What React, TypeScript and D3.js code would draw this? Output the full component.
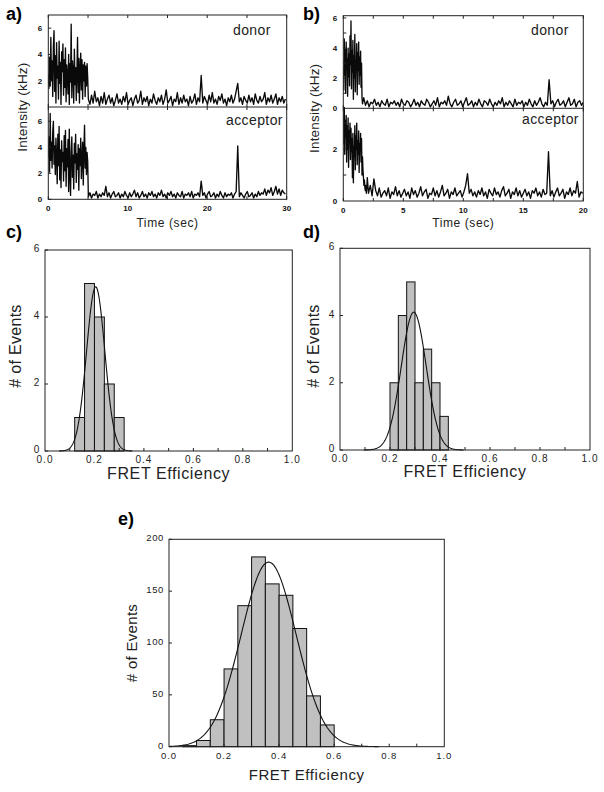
import React from 'react';
import * as d3 from 'd3';

const FONT = "'Liberation Sans', Arial, Helvetica, sans-serif";

// ---------- Panel a : time traces (kHz) ----------
const aHighStart = 0;
const aHighDt = 0.08;
const aLowStart = 5.04;
const aLowDt = 0.2;
const aDonorHigh = [2.5,1.4,3.8,1.6,5.3,2.0,3.5,0.8,4.6,5.8,1.2,3.9,0.3,4.9,2.2,3.1,0.6,5.0,1.8,3.4,0.2,4.2,2.7,4.8,0.9,3.6,1.5,4.5,0.4,3.2,2.4,1.0,4.0,0.2,3.3,1.9,6.3,0.7,3.5,2.8,0.3,4.4,1.7,3.0,0.5,2.6,5.3,1.1,3.7,0.3,2.9,4.1,1.3,3.6,0.6,3.2,2.0,3.4,0.8,3.1,1.6,3.3,2.2];
const aDonorLow = [0.6,0.2,0.9,0.3,1.2,0.4,0.7,0.1,0.8,0.3,1.1,0.2,0.6,0.9,0.3,0.7,0.1,0.5,1.0,0.3,0.6,0.2,0.8,0.4,1.1,0.2,0.5,0.7,0.1,0.6,0.9,0.3,0.5,1.2,0.2,0.7,0.4,0.8,0.1,0.6,0.3,1.0,0.5,0.2,0.7,0.4,0.9,0.2,0.6,1.3,0.3,0.5,0.8,0.1,0.6,0.4,1.1,0.2,0.7,0.3,0.9,0.4,0.6,0.1,0.8,0.3,0.5,1.0,0.2,0.7,0.4,2.4,0.3,0.8,0.5,0.2,0.9,0.4,1.1,0.3,0.6,0.2,0.8,0.5,1.0,0.3,0.6,0.1,0.7,0.4,0.9,0.3,0.6,1.2,1.8,0.4,0.7,0.2,0.8,0.5,0.3,0.9,0.4,0.7,0.2,1.0,0.5,0.3,0.8,0.4,0.6,1.1,0.2,0.7,0.4,0.9,0.3,0.6,1.0,0.2,0.7,0.4,0.8,0.3,0.6];
const aAcceptorHigh = [3.2,4.8,2.1,6.6,3.0,4.4,2.4,5.2,6.0,2.7,4.1,1.9,4.7,3.3,1.2,5.0,2.6,5.6,1.5,3.8,0.9,4.5,2.9,3.6,1.4,4.9,2.2,5.3,1.0,3.9,2.5,4.6,0.6,5.4,2.0,0.3,3.7,4.8,1.7,3.4,0.8,4.3,2.8,5.0,1.3,3.5,2.3,4.2,0.7,3.9,2.6,4.7,1.6,3.1,4.4,1.1,3.8,5.7,2.4,4.0,1.9,3.6,2.9];
const aAcceptorLow = [0.2,0.5,0.1,0.4,0.3,0.6,0.1,0.4,0.2,0.5,0.3,1.0,0.2,0.5,0.1,0.4,0.6,0.2,0.3,0.5,0.1,0.4,0.2,0.6,0.3,0.1,0.5,0.2,0.4,0.7,0.2,0.5,0.1,0.3,0.6,0.2,0.4,0.1,0.5,0.3,0.6,0.2,0.4,0.1,0.5,0.3,0.7,0.2,0.4,0.1,0.5,0.3,0.6,0.2,0.4,0.1,0.5,0.3,0.2,0.6,0.1,0.4,0.3,0.5,0.2,0.6,0.1,0.4,0.3,0.5,0.2,1.4,0.3,0.5,0.1,0.4,0.6,0.2,0.3,0.5,0.1,0.4,0.2,0.6,0.3,0.1,0.5,0.2,0.4,0.3,0.5,0.1,0.4,0.6,4.1,0.2,0.5,0.3,0.1,0.4,0.6,0.2,0.3,0.5,0.1,0.4,0.2,0.6,0.3,0.5,0.4,0.8,0.3,0.7,0.5,0.9,0.3,0.6,1.0,0.4,0.8,0.3,0.7,0.5,0.4];
const aXLabels = [0, 10, 20, 30];
const aXTicks = [0, 5, 10, 15, 20, 25, 30];
const aTopLabels = [2, 4, 6];
const aBotLabels = [0, 2, 4, 6];

// ---------- Panel b : time traces (kHz) ----------
const bHighStart = 0;
const bHighDt = 0.04;
const bDonorLowStart = 1.7;
const bAcceptorLowStart = 2.1;
const bLowDt = 0.15;
const bDonorHigh = [2.8,1.2,4.6,2.2,3.9,1.0,4.4,2.6,3.3,0.8,4.0,2.1,3.6,1.5,4.8,2.9,5.8,1.3,3.8,2.4,4.5,0.6,3.5,2.0,4.9,1.1,3.2,2.7,4.3,0.9,3.7,2.5,4.4,1.6,3.4,2.2,3.8,1.4,3.0,0.7,0.3];
const bDonorLow = [0.7,0.2,0.5,0.1,0.4,0.3,0.6,0.2,0.4,0.1,0.5,0.3,0.2,0.6,0.1,0.4,0.3,0.5,0.2,0.4,0.1,0.6,0.3,0.2,0.5,0.4,0.1,0.3,0.6,0.2,0.4,0.1,0.5,0.3,0.2,0.6,0.4,0.1,0.3,0.5,0.2,0.7,0.1,0.4,0.3,0.5,0.2,0.8,0.3,0.1,0.4,0.6,0.2,0.3,0.5,0.1,0.4,0.7,0.2,0.3,0.5,0.1,0.4,0.2,0.6,0.3,0.1,0.5,0.4,0.2,0.6,0.3,0.1,0.4,0.2,0.5,0.3,0.7,0.1,0.4,0.2,0.5,0.3,0.1,0.6,0.2,0.4,0.3,0.5,0.1,0.4,0.2,0.6,0.3,0.1,0.5,0.2,0.4,0.7,0.3,0.1,0.4,0.2,1.9,0.3,0.5,0.1,0.4,0.6,0.2,0.3,0.5,0.1,0.4,0.7,0.2,0.3,0.6,0.1,0.4,0.5,0.2,0.4];
const bAcceptorHigh = [3.4,2.2,3.6,1.8,3.1,2.5,3.3,1.5,2.9,2.0,3.2,1.3,2.7,2.3,3.0,1.6,2.8,1.9,2.4,0.9,2.6,0.7,2.1,1.7,2.9,1.2,2.5,2.0,3.0,1.4,2.3,1.8,2.7,1.1,2.2,1.9,2.6,1.5,2.4,1.0,1.7,1.2,0.9,0.6,0.8,0.5,0.4,0.6,0.3,0.5,0.9];
const bAcceptorLow = [0.3,0.6,0.2,0.85,0.4,0.2,0.5,0.15,0.3,0.4,0.2,0.5,0.1,0.35,0.25,0.55,0.2,0.4,0.15,0.3,0.45,0.2,0.35,0.1,0.5,0.25,0.4,0.15,0.3,0.55,0.2,0.35,0.45,0.1,0.3,0.25,0.5,0.2,0.4,0.15,0.35,0.6,0.2,0.3,0.45,0.1,0.35,0.25,0.5,0.2,0.3,0.4,0.15,0.35,0.6,1.05,0.3,0.45,0.2,0.35,0.15,0.4,0.25,0.5,0.2,0.35,0.1,0.45,0.3,0.2,0.5,0.25,0.35,0.15,0.4,0.55,0.2,0.3,0.45,0.1,0.35,0.25,0.5,0.2,0.4,0.15,0.3,0.45,0.2,0.35,0.1,0.4,0.3,0.5,0.2,0.35,0.15,0.45,0.25,0.3,1.9,0.2,0.4,0.15,0.35,0.5,0.2,0.3,0.45,0.1,0.35,0.25,0.5,0.2,0.4,0.3,0.75,0.15,0.35,0.3];
const bXLabels = [0, 5, 10, 15, 20];
const bXTicks = [0, 2.5, 5, 7.5, 10, 12.5, 15, 17.5, 20];
const bTopLabels = [0, 2, 4, 6];
const bTopTicks = [1, 2, 3, 4, 5, 6];
const bBotLabels = [0, 2];
const bBotTicks = [1, 2, 3];

// ---------- Histograms ----------
const effLabels = [0, 0.2, 0.4, 0.6, 0.8, 1.0];
const effTicks = [0.1, 0.2, 0.3, 0.4, 0.5, 0.6, 0.7, 0.8, 0.9];

const cEdges = [0.12, 0.16, 0.2, 0.24, 0.28, 0.32];
const cCounts = [1, 5, 4, 2, 1];
const cFit = { amp: 4.9, mu: 0.205, sigma: 0.037 };
const cYLabels = [0, 2, 4, 6];

const dEdges = [0.2, 0.2333, 0.2667, 0.3, 0.3333, 0.3667, 0.4, 0.4333];
const dCounts = [2, 4, 5, 2, 3, 2, 1];
const dFit = { amp: 4.1, mu: 0.295, sigma: 0.05 };
const dYLabels = [0, 2, 4, 6];

const eEdges = [0.05, 0.1, 0.15, 0.2, 0.25, 0.3, 0.35, 0.4, 0.45, 0.5, 0.55, 0.6];
const eCounts = [1, 6, 26, 75, 136, 183, 157, 146, 114, 49, 21];
const eFit = { amp: 178, mu: 0.362, sigma: 0.1 };
const eYLabels = [0, 50, 100, 150, 200];

type Pt = { t: number; v: number };

function series(hi: number[], hiStart: number, hiDt: number, lo: number[], loStart: number, loDt: number): Pt[] {
  return [
    ...hi.map((v, i) => ({ t: hiStart + i * hiDt, v })),
    ...lo.map((v, i) => ({ t: loStart + i * loDt, v })),
  ];
}

function TracePanel(p: any) {
  const x = d3.scaleLinear().domain([0, p.xMax]).range([p.left, p.right]);
  const yT = d3.scaleLinear().domain([0, p.topMax]).range([p.mid, p.top]);
  const yB = d3.scaleLinear().domain([0, p.botMax]).range([p.bottom, p.mid]);
  const lT = d3.line<Pt>().x(d => x(d.t)).y(d => yT(d.v));
  const lB = d3.line<Pt>().x(d => x(d.t)).y(d => yB(d.v));
  const tickFont = { fontFamily: FONT, fontSize: 8, fontWeight: 700 as const, fill: '#111' };
  return (
    <g>
      <defs>
        <clipPath id={p.id + 'clip'}>
          <rect x={p.left} y={p.top} width={p.right - p.left} height={p.bottom - p.top} />
        </clipPath>
      </defs>
      <g clipPath={`url(#${p.id}clip)`}>
        <path d={lT(p.donor) || ''} fill="none" stroke="#0a0a0a" strokeWidth={1.35} strokeLinejoin="round" />
        <path d={lB(p.acceptor) || ''} fill="none" stroke="#0a0a0a" strokeWidth={1.35} strokeLinejoin="round" />
      </g>
      <rect x={p.left} y={p.top} width={p.right - p.left} height={p.bottom - p.top} fill="none" stroke="#222" strokeWidth={1} />
      <line x1={p.left} x2={p.right} y1={p.mid} y2={p.mid} stroke="#222" strokeWidth={1} />
      {p.xTicks.map((t: number) => (
        <g key={'xt' + t}>
          <line x1={x(t)} x2={x(t)} y1={p.bottom} y2={p.bottom - 3} stroke="#222" />
          <line x1={x(t)} x2={x(t)} y1={p.mid - 3} y2={p.mid + 3} stroke="#222" />
          <line x1={x(t)} x2={x(t)} y1={p.top} y2={p.top + 3} stroke="#222" />
        </g>
      ))}
      {p.xLabels.map((t: number) => (
        <text key={'xl' + t} x={x(t)} y={p.bottom + 12} textAnchor="middle" {...tickFont}>{t}</text>
      ))}
      {p.topTicks.map((v: number) => (
        <line key={'tt' + v} x1={p.left} x2={p.left + 3} y1={yT(v)} y2={yT(v)} stroke="#222" />
      ))}
      {p.botTicks.map((v: number) => (
        <line key={'bt' + v} x1={p.left} x2={p.left + 3} y1={yB(v)} y2={yB(v)} stroke="#222" />
      ))}
      {p.topLabels.map((v: number) => (
        <text key={'tl' + v} x={p.left - 6} y={yT(v) + 3} textAnchor="end" {...tickFont}>{v}</text>
      ))}
      {p.botLabels.map((v: number) => (
        <text key={'bl' + v} x={p.left - 6} y={yB(v) + 3} textAnchor="end" {...tickFont}>{v}</text>
      ))}
      <text x={p.donorX} y={35} fontFamily={FONT} fontSize={14} letterSpacing={0.4} fill="#222">donor</text>
      <text x={p.accX} y={p.accY} fontFamily={FONT} fontSize={14} letterSpacing={0.4} fill="#222">acceptor</text>
      <text x={(p.left + p.right) / 2} y={227} textAnchor="middle" fontFamily={FONT} fontSize={12} letterSpacing={0.6} fill="#222">Time (sec)</text>
      <text transform={`translate(${p.yLabelX},${(p.top + p.bottom) / 2}) rotate(-90)`} textAnchor="middle" fontFamily={FONT} fontSize={13.5} letterSpacing={0.2} fill="#222">Intensity (kHz)</text>
      <text x={p.tagX} y={20} fontFamily={FONT} fontSize={18} fontWeight={700} fill="#000">{p.tag}</text>
    </g>
  );
}

function Hist(p: any) {
  const x = d3.scaleLinear().domain([0, 1]).range([p.left, p.right]);
  const y = d3.scaleLinear().domain([0, p.yMax]).range([p.bottom, p.top]);
  const { amp, mu, sigma } = p.fit;
  const lo = Math.max(0, mu - 4 * sigma);
  const hi = mu + 4 * sigma;
  const pts = d3.range(0, 201).map(i => {
    const xv = lo + (hi - lo) * i / 200;
    return [xv, amp * Math.exp(-((xv - mu) ** 2) / (2 * sigma * sigma))] as [number, number];
  });
  const line = d3.line<[number, number]>().x(d => x(d[0])).y(d => y(d[1]));
  const tickFont = { fontFamily: FONT, fontSize: p.tickSize, letterSpacing: 1, fill: '#222' };
  return (
    <g>
      {p.counts.map((c: number, i: number) => (
        <rect key={i} x={x(p.edges[i])} y={y(c)} width={x(p.edges[i + 1]) - x(p.edges[i])} height={y(0) - y(c)}
          fill="#c0c0c0" stroke="#111" strokeWidth={1} />
      ))}
      <path d={line(pts) || ''} fill="none" stroke="#111" strokeWidth={1.1} />
      <rect x={p.left} y={p.top} width={p.right - p.left} height={p.bottom - p.top} fill="none" stroke="#222" strokeWidth={1} />
      {effTicks.map(t => (
        <line key={'xt' + t} x1={x(t)} x2={x(t)} y1={p.bottom} y2={p.bottom - 3} stroke="#222" />
      ))}
      {effLabels.map(t => (
        <text key={'xl' + t} x={x(t)} y={p.bottom + p.xLabelDy} textAnchor="middle" {...tickFont}>{t.toFixed(1)}</text>
      ))}
      {p.yLabels.map((v: number) => (
        <g key={'yl' + v}>
          <line x1={p.left} x2={p.left + 3} y1={y(v)} y2={y(v)} stroke="#222" />
          <text x={p.left - 5} y={y(v) + 2} textAnchor="end" {...tickFont} letterSpacing={0.6}>{v}</text>
        </g>
      ))}
      <text x={(p.left + p.right) / 2} y={p.xTitleY} textAnchor="middle" fontFamily={FONT} fontSize={p.titleSize} letterSpacing={0.6} fill="#222">FRET Efficiency</text>
      <text transform={`translate(${p.yTitleX},${p.yTitleY}) rotate(-90)`} textAnchor="middle" fontFamily={FONT} fontSize={p.titleSize} letterSpacing={0.3} fill="#222"># of Events</text>
      <text x={p.tagX} y={p.tagY} fontFamily={FONT} fontSize={18} fontWeight={700} fill="#000">{p.tag}</text>
    </g>
  );
}

export default function App() {
  const aDonor = series(aDonorHigh, aHighStart, aHighDt, aDonorLow, aLowStart, aLowDt);
  const aAcc = series(aAcceptorHigh, aHighStart, aHighDt, aAcceptorLow, aLowStart, aLowDt);
  const bDonor = series(bDonorHigh, bHighStart, bHighDt, bDonorLow, bDonorLowStart, bLowDt);
  const bAcc = series(bAcceptorHigh, bHighStart, bHighDt, bAcceptorLow, bAcceptorLowStart, bLowDt);
  return (
    <svg width={604} height={792} style={{ position: 'absolute', left: 0, top: 0, background: '#fff' }}>
      <rect x={0} y={0} width={604} height={792} fill="#fff" />
      <TracePanel id="a" tag="a)" tagX={6} left={48.3} right={286.7} top={15} mid={107} bottom={199.3}
        xMax={30} topMax={7} botMax={7.1} donor={aDonor} acceptor={aAcc}
        xLabels={aXLabels} xTicks={aXTicks} topLabels={aTopLabels} topTicks={aTopLabels}
        botLabels={aBotLabels} botTicks={aBotLabels} yLabelX={27}
        donorX={233} accX={226} accY={125} />
      <TracePanel id="b" tag="b)" tagX={303} left={343.3} right={583.3} top={15.7} mid={108.3} bottom={201}
        xMax={20} topMax={6.15} botMax={3.57} donor={bDonor} acceptor={bAcc}
        xLabels={bXLabels} xTicks={bXTicks} topLabels={bTopLabels} topTicks={bTopTicks}
        botLabels={bBotLabels} botTicks={bBotTicks} yLabelX={319}
        donorX={531} accX={522} accY={124} />
      <Hist tag="c)" tagX={6} tagY={238} left={45} right={292.3} top={250} bottom={451} yMax={6}
        edges={cEdges} counts={cCounts} fit={cFit} yLabels={cYLabels} tickSize={10} xLabelDy={11.5}
        xTitleY={479} titleSize={16} yTitleX={21} yTitleY={346} />
      <Hist tag="d)" tagX={303} tagY={238} left={340} right={590} top={248.3} bottom={450} yMax={6}
        edges={dEdges} counts={dCounts} fit={dFit} yLabels={dYLabels} tickSize={10} xLabelDy={11.5}
        xTitleY={477} titleSize={16} yTitleX={319} yTitleY={346} />
      <Hist tag="e)" tagX={118} tagY={525} left={169} right={444.3} top={539.3} bottom={746.7} yMax={200}
        edges={eEdges} counts={eCounts} fit={eFit} yLabels={eYLabels} tickSize={9.5} xLabelDy={12.5}
        xTitleY={780} titleSize={15} yTitleX={137} yTitleY={643} />
    </svg>
  );
}
